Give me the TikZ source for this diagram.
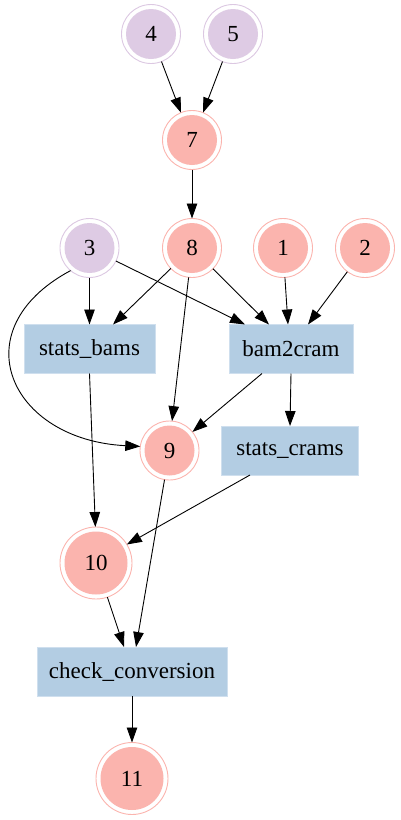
\documentclass[tikz,border=0pt]{standalone}
\usepackage{fontspec}
\setmainfont{Liberation Serif}
\newfontfamily\gvfont{Liberation Serif}
\usetikzlibrary{arrows.meta,calc}
\definecolor{pfill}{HTML}{DECBE4}
\definecolor{pring}{HTML}{DCC8E2}
\definecolor{rfill}{HTML}{FBB4AE}
\definecolor{rring}{HTML}{FBB4AE}
\definecolor{bfill}{HTML}{B3CDE3}
\definecolor{bring}{HTML}{CFDFEE}
\begin{document}
\begin{tikzpicture}[x=1pt,y=-1pt,
  every node/.style={font=\gvfont\fontsize{23}{26}\selectfont, inner sep=0pt, outer sep=0pt},
  dc/.style 2 args={circle, draw=#1, line width=0.9pt, fill=white, minimum size=59pt,
    path picture={\fill[#2] (path picture bounding box.center) circle (25pt);}},
  dcbig/.style={circle, draw=rring, line width=0.9pt, fill=white, minimum size=72pt,
    path picture={\fill[rfill] (path picture bounding box.center) circle (31.5pt);}},
  pnode/.style={dc={pring}{pfill}},
  rnode/.style={dc={rring}{rfill}},
  task/.style={rectangle, fill=bfill, draw=bring, line width=0.9pt, minimum height=49pt},
  edge/.style={line width=0.9pt, -{Triangle[length=15pt,width=10.5pt]}}
]
\useasboundingbox (0,0) rectangle (400,820);
\node[pnode] (n4) at (151,34) {4};
\node[pnode] (n5) at (233,34) {5};
\node[rnode] (n7) at (192,140) {7};
\node[pnode] (n3) at (89.5,248) {3};
\node[rnode] (n8) at (192,248) {8};
\node[rnode] (n1) at (283,248) {1};
\node[rnode] (n2) at (365,248) {2};
\node[task, minimum width=131pt] (sb) at (89.5,349) {stats\_bams};
\node[task, minimum width=124pt] (bc) at (291,349) {bam2cram};
\node[rnode] (n9) at (169.5,450.5) {9};
\node[task, minimum width=137pt] (sc) at (290,450.5) {stats\_crams};
\node[dcbig] (n10) at (96,563) {10};
\node[task, minimum width=190pt] (cc) at (132,671.5) {check\_conversion};
\node[dcbig] (n11) at (132,778.5) {11};

\draw[edge] (n4) -- (n7.112);
\draw[edge] (n5) -- (n7.68);
\draw[edge] (n7) -- (n8);
\draw[edge] (n3) -- (sb.north);
\draw[edge] (n3) -- ($(bc.north)+(-46,0)$);
\draw[edge] (n3.230) .. controls (-40,330) and (10,440) .. (n9.172);
\draw[edge] (n8) -- ($(sb.north)+(23.5,0)$);
\draw[edge] (n8) -- ($(bc.north)+(-22,0)$);
\draw[edge] (n8) -- (n9.85);
\draw[edge] (n1) -- ($(bc.north)+(-3,0)$);
\draw[edge] (n2) -- ($(bc.north)+(17,0)$);
\draw[edge] ($(bc.south)+(-29,0)$) -- (n9.39);
\draw[edge] (bc.south) -- (sc.north);
\draw[edge] (sb.south) -- (n10.91);
\draw[edge] ($(sc.south)+(-40,0)$) -- (n10.31);
\draw[edge] (n10) -- ($(cc.north)+(-8,0)$);
\draw[edge] (n9) -- ($(cc.north)+(4,0)$);
\draw[edge] (cc) -- (n11);
\end{tikzpicture}
\end{document}
